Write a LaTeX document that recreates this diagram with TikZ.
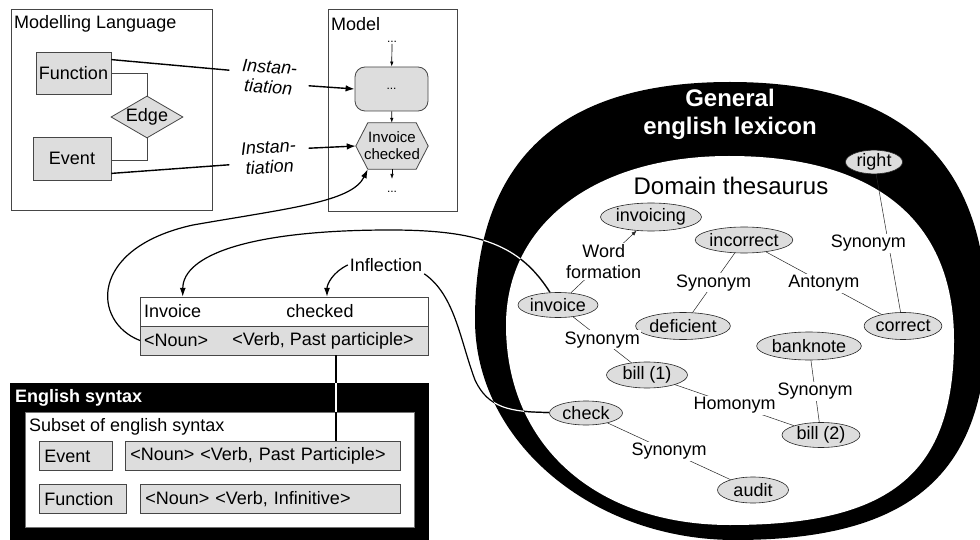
\documentclass[tikz,border=0pt]{standalone}
\usepackage{fontspec}
\setmainfont{Liberation Sans}
\usetikzlibrary{arrows.meta,shapes.geometric,calc}
\definecolor{boxgray}{RGB}{221,221,221}
\definecolor{ink}{RGB}{70,70,70}
\pgfdeclarelayer{bg}
\pgfsetlayers{bg,main}
\tikzset{
  frame/.style={draw=ink, line width=0.8pt, inner sep=0pt},
  graybox/.style={draw=ink, line width=0.8pt, fill=boxgray, inner sep=0pt},
  sbox/.style={graybox, inner xsep=5pt, minimum height=29pt, align=left, anchor=north west},
  word/.style={inner xsep=4pt, inner ysep=0pt, minimum height=29pt},
  inst/.style={align=center, font=\fontsize{18}{20}\selectfont\itshape, inner xsep=12pt, inner ysep=2pt},
  lexnode/.style={ellipse, draw=black!85, line width=0.6pt, fill=boxgray, inner sep=0pt, minimum height=26pt},
  rel/.style={fill=white, inner sep=1.5pt},
  relline/.style={line width=0.5pt, draw=black!85},
  flowline/.style={line width=1.4pt},
  bigarrow/.style={line width=1.4pt, -{Latex[length=9pt,width=6.5pt]}},
  thinarrow/.style={line width=0.7pt, -{Latex[length=5pt,width=3.5pt]}},
  curve/.style={line width=1.2pt},
  curvearrow/.style={curve, -{Latex[length=9pt,width=6pt]}},
  dots/.style={font=\fontsize{12}{14}\selectfont, inner sep=1pt},
}
% outline of the lexicon ring (outer and inner ovals, one Bezier per quarter)
\def\lexouter{(987,320) .. controls (987,474) and (911.4,540) .. (735,540)
  .. controls (592,540) and (475,441) .. (475,320)
  .. controls (475,160.5) and (559.1,82) .. (730,82)
  .. controls (902.2,82) and (987,160.5) .. (987,320) -- cycle}
\def\lexinner{(954,340) .. controls (954,473.2) and (891.3,525) .. (730,525)
  .. controls (595.6,525) and (506,445) .. (506,325)
  .. controls (506,223.6) and (595.2,156) .. (729,156)
  .. controls (875.3,156) and (954,220.4) .. (954,340) -- cycle}
\begin{document}
\begin{tikzpicture}[x=1pt, y=-1pt, font=\fontsize{18}{21}\selectfont]
\useasboundingbox (0,0) rectangle (980,540);
\begin{pgfonlayer}{bg}
  \fill[white] (0,0) rectangle (980,540);
\end{pgfonlayer}

% ---------------- modelling language ----------------
\node[frame, minimum width=201pt, minimum height=201pt, anchor=north west] (mlang) at (11,9) {};
\node[anchor=west, inner sep=0pt] (mlangT) at (14,24) {Modelling Language};
\node[graybox, minimum width=75pt, minimum height=42pt] (fn) at (73.5,73) {Function};
\node[graybox, minimum width=78pt, minimum height=43pt] (ev) at (72,158.5) {Event};
\node[graybox, diamond, aspect=1.7, minimum width=72pt, minimum height=42pt] (edge) at (147,117) {Edge};
\draw[line width=0.8pt, ink] (fn.east) -| (edge.north);
\draw[line width=0.8pt, ink] (edge.south) |- ([yshift=-1.5pt]ev.east);

% ---------------- model ----------------
\node[frame, minimum width=129pt, minimum height=202pt, anchor=north west] (model) at (328,9) {};
\node[anchor=west, inner sep=0pt] (modelT) at (331,24) {Model};
\node[dots] (dtop) at (392,42) {...};
\node[graybox, rounded corners=10pt, minimum width=73pt, minimum height=44pt, font=\fontsize{12}{14}\selectfont] (mfn) at (391.5,89) {...};
\node[minimum width=72pt, minimum height=46pt, inner sep=0pt, align=center, font=\fontsize{15}{17}\selectfont] (hex) at (392,146) {Invoice\\checked};
\begin{pgfonlayer}{bg}
  \draw[graybox] (hex.west) -- ([xshift=12pt]hex.north west) -- ([xshift=-12pt]hex.north east)
    -- (hex.east) -- ([xshift=-12pt]hex.south east) -- ([xshift=12pt]hex.south west) -- cycle;
\end{pgfonlayer}
\node[dots] (dbot) at (392,192) {...};
\coordinate (dend) at (392,179);
\draw[thinarrow] (dtop) -- (mfn);
\draw[thinarrow] (mfn) -- (hex);
\draw[thinarrow] (hex.south) -- (dend);

% instantiation links
\node[inst, rotate=-4] (inst1) at (269,77) {Instan-\\tiation};
\node[inst, rotate=4] (inst2) at (269,157) {Instan-\\tiation};
\draw[flowline] ([yshift=-8pt]fn.north east) -- ([yshift=4pt]inst1.west);
\draw[bigarrow] ([yshift=-6pt]inst1.east) -- (mfn.west);
\draw[flowline] ([yshift=7pt]ev.south east) -- ([yshift=-5pt]inst2.west);
\draw[bigarrow] ([yshift=6pt]inst2.east) -- (hex.west);

% ---------------- phrase structure ----------------
\node[frame, fill=white, minimum width=288pt, minimum height=29pt, anchor=north west] (wrow) at (140,297) {};
\node[frame, fill=boxgray, minimum width=288pt, minimum height=29pt, anchor=north west] (crow) at (140,326) {};
\node[word, anchor=west] (invw) at (140,311.5) {Invoice};
\node[word] (chkw) at (320,311.5) {checked};
\node[word, anchor=west] (nounw) at (140,340.5) {<Noun>};
\node[word] (verbw) at (323,340.5) {<Verb, Past participle>};

\draw[curvearrow] (nounw.west) .. controls (92,322) and (88,248) .. (193,225)
  .. controls (290,208) and (352,202) .. ([xshift=12pt]hex.south west);

\node[inner sep=2pt] (infl) at (386,265) {Inflection};
\draw[curvearrow] (infl.west) .. controls (333,272) and (327,284) .. ([xshift=7pt]chkw.north);

% ---------------- english syntax ----------------
\node[fill=black, minimum width=419pt, minimum height=160pt, anchor=north west, inner sep=0pt] (esyn) at (10,383) {};
\node[anchor=west, inner sep=0pt, text=white, font=\fontsize{18}{21}\selectfont\bfseries] (esynT) at (15,398) {English syntax};
\node[fill=white, draw=black!55, line width=0.8pt, minimum width=389pt, minimum height=115pt, anchor=north west, inner sep=0pt] (subset) at (25,412) {};
\node[anchor=west, inner sep=0pt] (subsetT) at (29,427) {Subset of english syntax};
\node[sbox, text width=63pt] (sev) at (39,441) {Event};
\node[sbox, text width=265pt] (evp) at (125,441) {<Noun> <Verb, Past Participle>};
\node[sbox, text width=77pt] (sfn) at (39,484) {Function};
\node[sbox, text width=250pt] (sinf) at (140,484) {<Noun> <Verb, Infinitive>};

\coordinate (vtap) at ([xshift=13pt]verbw.south);
\draw[flowline] (vtap) -- (vtap |- evp.north);
\begin{scope}
  \clip (esyn.north west) rectangle (esyn.south east);
  \draw[flowline, white] (vtap) -- (vtap |- evp.north);
\end{scope}
\begin{scope}
  \clip (subset.north west) rectangle (subset.south east);
  \draw[flowline] (vtap) -- (vtap |- evp.north);
\end{scope}

% ---------------- lexicon ring ----------------
\fill[black] \lexouter;
\fill[white] \lexinner;
\node[text=white, align=center, font=\fontsize{24}{28}\selectfont\bfseries] (gel) at (730,114) {General\\english lexicon};
\node[font=\fontsize{24}{28}\selectfont] (dth) at (731,186) {Domain thesaurus};

\node[lexnode, minimum width=101pt, minimum height=28pt] (lx-invoicing) at (651,217) {invoicing};
\node[lexnode, minimum width=88pt] (lx-incorrect) at (744,240) {incorrect};
\node[lexnode, minimum width=57pt, minimum height=23pt] (lx-right) at (874,162) {right};
\node[lexnode, minimum width=80pt, minimum height=25pt] (lx-invoice) at (558,305) {invoice};
\node[lexnode, minimum width=93pt, minimum height=27pt] (lx-deficient) at (683,326) {deficient};
\node[lexnode, minimum width=72pt, minimum height=27pt] (lx-correct) at (903,326) {correct};
\node[lexnode, minimum width=100pt, minimum height=28pt] (lx-banknote) at (809,346) {banknote};
\node[lexnode, minimum width=81pt] (lx-bill1) at (647,375) {bill (1)};
\node[lexnode, minimum width=73pt, minimum height=24pt] (lx-check) at (586,413) {check};
\node[lexnode, minimum width=78pt, minimum height=25pt] (lx-bill2) at (821,435) {bill (2)};
\node[lexnode, minimum width=71pt] (lx-audit) at (753,490) {audit};

% links from the phrase into the lexicon
\def\invoicelink{(lx-invoice) .. controls (520,245) and (480,230) .. (390,230)
  .. controls (250,230) and (183,255) .. ([xshift=10pt]invw.north)}
\def\checklink{(infl.south east) .. controls (455,295) and (460,340) .. (475,380)
  .. controls (488,408) and (510,412) .. (lx-check)}
\draw[curvearrow] \invoicelink;
\draw[curve] \checklink;
\begin{scope}
  \clip \lexouter;
  \draw[curve, white] \invoicelink;
  \draw[curve, white] \checklink;
\end{scope}
\begin{scope}
  \clip \lexinner;
  \draw[curve] \invoicelink;
  \draw[curve] \checklink;
\end{scope}

% thesaurus relations
\draw[relline, -{Latex[length=5pt,width=4pt]}] (lx-invoice) -- node[rel, align=center] (r-wf) {Word\\formation} (lx-invoicing);
\draw[relline] (lx-invoice) -- node[rel] (r-syn1) {Synonym} (lx-bill1);
\draw[relline] (lx-incorrect) -- node[rel] (r-syn2) {Synonym} (lx-deficient);
\draw[relline] (lx-incorrect) -- node[rel] (r-ant) {Antonym} (lx-correct);
\draw[relline] (lx-right) -- node[rel, xshift=-20pt] (r-syn3) {Synonym} (lx-correct);
\draw[relline] (lx-bill1) -- node[rel] (r-hom) {Homonym} (lx-bill2);
\draw[relline] (lx-banknote) -- node[rel] (r-syn4) {Synonym} (lx-bill2);
\draw[relline] (lx-check) -- node[rel] (r-syn5) {Synonym} (lx-audit);
\end{tikzpicture}
\end{document}
